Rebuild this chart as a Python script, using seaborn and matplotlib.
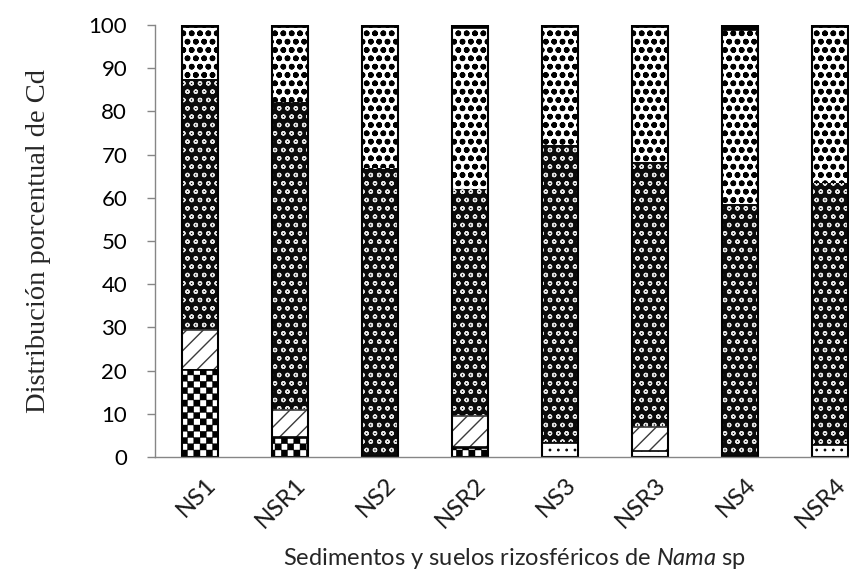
import matplotlib
matplotlib.use("Agg")
import matplotlib.hatch as mhatch
import matplotlib.pyplot as plt
import matplotlib.transforms as mtransforms
import numpy as np
import seaborn as sns
from matplotlib.path import Path

# ---------------------------------------------------------------------------
# Data: percentage of Cd in each fraction (bottom -> top of every bar)
# ---------------------------------------------------------------------------
samples = ["NS1", "NSR1", "NS2", "NSR2", "NS3", "NSR3", "NS4", "NSR4"]
frac_1 = [20.2, 4.3, 0.0, 2.0, 0.0, 0.0, 0.0, 0.0]        # checker
frac_2 = [0.0, 0.3, 0.3, 0.3, 3.3, 1.5, 0.3, 2.8]         # sparse dots
frac_3 = [9.2, 6.3, 0.0, 7.2, 0.0, 5.5, 0.0, 0.0]         # diagonal
frac_4 = [58.0, 71.3, 66.5, 52.5, 69.0, 61.3, 58.2, 60.7]  # dark
frac_5 = [12.1, 17.3, 32.7, 37.3, 27.2, 31.2, 40.3, 36.0]  # squares
frac_6 = [0.5, 0.5, 0.5, 0.7, 0.5, 0.5, 1.2, 0.5]          # top band


# ---------------------------------------------------------------------------
# Checkerboard hatch (takes the place of the '*' star hatch)
# ---------------------------------------------------------------------------
_cells = [(i, j) for i in range(4) for j in range(4) if (i + j) % 2 == 0]
_square = np.array([[0, 0], [1, 0], [1, 1], [0, 1], [0, 0]], dtype=float)


class CheckerHatch(mhatch.Shapes):
    filled = True
    size = 1.0
    shape_vertices = np.concatenate([(_square + c) / 4.0 - 0.5 for c in _cells])
    shape_codes = np.tile(
        [Path.MOVETO, Path.LINETO, Path.LINETO, Path.LINETO, Path.CLOSEPOLY],
        len(_cells)).astype(Path.code_type)

    def __init__(self, hatch, density):
        self.num_rows = 4 * hatch.count("*")
        super().__init__(hatch, density)


mhatch._hatch_types = [t for t in mhatch._hatch_types
                       if t is not mhatch.Stars] + [CheckerHatch]

sns.set_theme(style="white")
plt.rcParams["font.family"] = ["Lato", "DejaVu Sans"]
plt.rcParams["mathtext.fontset"] = "custom"
plt.rcParams["mathtext.rm"] = "Lato"
plt.rcParams["mathtext.it"] = "Lato:italic"
plt.rcParams["hatch.linewidth"] = 1.0

fig = plt.figure(figsize=(8.49, 5.76), dpi=100)
ax = fig.add_axes([155 / 849, 119 / 576, 720 / 849, 432 / 576])

stack = np.array([frac_1, frac_2, frac_3, frac_4, frac_5, frac_6])
cum = np.cumsum(stack, axis=0)

# (face, edge/hatch colour, hatch, hatch lw, edge lw) for each fraction
styles = [
    ("white", "black", "*", 0.3, 1.2),
    ("white", "black", "..", 0.8, 1.2),
    ("white", "#3a3a3a", "//", 1.0, 1.2),
    ("#0b0b0b", "#e6e6e6", "oo", 0.9, 0.0),
    ("white", "black", "oo", 1.7, 1.2),
    ("black", "black", None, 1.0, 0.0),
]

BAR_W = 0.41
for k in range(len(styles) - 1, -1, -1):
    face, edge, hatch, hlw, lw = styles[k]
    n0 = len(ax.patches)
    sns.barplot(x=samples, y=cum[k], order=samples, color=face, saturation=1,
                edgecolor=edge, linewidth=lw, hatch=hatch, width=BAR_W,
                errorbar=None, ax=ax)
    for p in ax.patches[n0:]:
        if hasattr(p, "set_hatch_linewidth"):
            p.set_hatch_linewidth(hlw)

# black outline of each full bar
sns.barplot(x=samples, y=cum[-1], order=samples, fill=False, color="black",
            linewidth=1.5, width=BAR_W, errorbar=None, ax=ax)

ax.set_xlim(-0.5, 7.5)
ax.set_ylim(0, 100)
ax.set_yticks(range(0, 101, 10))
for side in ["top", "right"]:
    ax.spines[side].set_visible(False)
for side in ["left", "bottom"]:
    ax.spines[side].set_color("#868686")
    ax.spines[side].set_linewidth(1.0)

ax.tick_params(axis="y", length=6, width=1, color="#868686", labelsize=16,
               pad=14, left=True, labelcolor="black")
ax.tick_params(axis="x", length=0, labelsize=17.5, pad=12, labelcolor="#1a1a1a")
ax.set_xticks(range(len(samples)))
ax.set_xticklabels(samples, rotation=45, ha="right", va="top",
                   rotation_mode="anchor")
shift = mtransforms.ScaledTranslation(0.05, 0, fig.dpi_scale_trans)
for lab in ax.get_xticklabels():
    lab.set_transform(lab.get_transform() + shift)

ax.set_xlabel("Sedimentos y suelos rizosféricos de $\\mathit{Nama}$ sp",
              fontsize=17, labelpad=10)
ax.set_ylabel("Distribución porcentual de Cd", fontsize=20.5,
              family=["Liberation Serif", "DejaVu Serif"])
ax.yaxis.set_label_coords(-0.144, 0.5)

fig.savefig("out.png", dpi=100)
